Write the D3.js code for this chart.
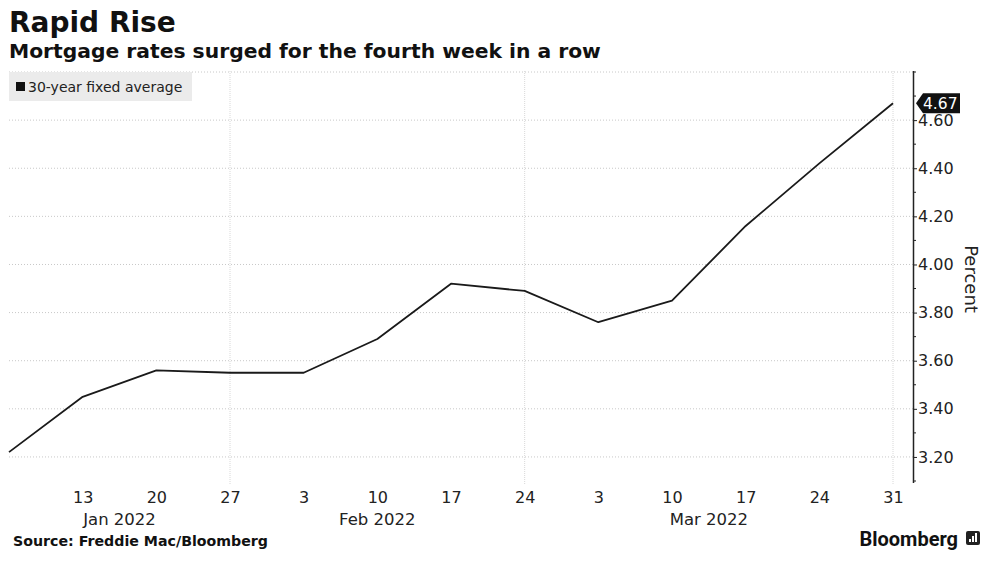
<!DOCTYPE html>
<html lang="en">
<head>
<meta charset="utf-8">
<script src="https://d3js.org/d3.v7.min.js"></script>
<style>
  body { margin: 0; background: white; }
  svg { font-family: "DejaVu Sans", Verdana, sans-serif; }
</style>
</head>
<body>
<svg id="chart" width="990" height="567"></svg>
<script>
  // weekly Freddie Mac 30-year fixed average
  const dates = ["2022-01-06","2022-01-13","2022-01-20","2022-01-27","2022-02-03","2022-02-10",
                 "2022-02-17","2022-02-24","2022-03-03","2022-03-10","2022-03-17","2022-03-24","2022-03-31"];
  const rates = [3.22, 3.45, 3.56, 3.55, 3.55, 3.69, 3.92, 3.89, 3.76, 3.85, 4.16, 4.42, 4.67];
  const yTicks = [3.20, 3.40, 3.60, 3.80, 4.00, 4.20, 4.40, 4.60, 4.80];
  const gridDates = ["2022-01-27","2022-02-24","2022-03-31"];
  const monthLabels = [["2022-01-16T12:00","Jan 2022"],["2022-02-10","Feb 2022"],["2022-03-13T12:00","Mar 2022"]];

  const parse = d3.isoParse;
  const data = dates.map((d, i) => ({ date: parse(d), value: rates[i] }));

  const svg = d3.select("#chart");
  const plotLeft = 9, plotRight = 913, plotTop = 71, plotBottom = 485;

  const x = d3.scaleTime().domain([parse(dates[0]), parse(dates[dates.length - 1])]).range([9, 893]);
  const y = d3.scaleLinear().domain([3.1, 4.8]).range([481, 72]);

  // titles
  svg.append("text").attr("x", 9).attr("y", 32).attr("font-size", 28).attr("font-weight", "bold")
     .attr("fill", "#111").text("Rapid Rise");
  svg.append("text").attr("x", 9).attr("y", 58).attr("font-size", 20.3).attr("font-weight", "bold")
     .attr("fill", "#111").text("Mortgage rates surged for the fourth week in a row");

  // gridlines
  svg.append("g").selectAll("line").data(yTicks).enter().append("line")
     .attr("x1", plotLeft).attr("x2", plotRight).attr("y1", d => y(d)).attr("y2", d => y(d))
     .attr("stroke", "#c8c8c8").attr("stroke-dasharray", "1,2");
  svg.append("g").selectAll("line").data(gridDates).enter().append("line")
     .attr("x1", d => x(parse(d))).attr("x2", d => x(parse(d)))
     .attr("y1", plotTop).attr("y2", plotBottom)
     .attr("stroke", "#d8d8d8").attr("stroke-dasharray", "1,1");

  // legend
  svg.append("rect").attr("x", 9).attr("y", 72).attr("width", 183).attr("height", 29).attr("fill", "#ebebeb");
  svg.append("rect").attr("x", 16).attr("y", 82).attr("width", 9).attr("height", 9).attr("fill", "#111");
  svg.append("text").attr("x", 28).attr("y", 92).attr("font-size", 14).attr("fill", "#222")
     .text("30-year fixed average");

  // line
  const line = d3.line().x(d => x(d.date)).y(d => y(d.value));
  svg.append("path").datum(data).attr("d", line).attr("fill", "none")
     .attr("stroke", "#1a1a1a").attr("stroke-width", 1.8).attr("stroke-linejoin", "round");

  // right axis
  const yAxis = d3.axisRight(y).tickValues(yTicks.filter(d => d < 4.8)).tickSize(4).tickFormat(d3.format(".2f"));
  const ag = svg.append("g").attr("transform", `translate(${plotRight},0)`).call(yAxis);
  ag.select(".domain").attr("d", `M0.5,${plotTop}V${plotBottom - 2}`).attr("stroke", "#222").attr("stroke-width", 1.5);
  ag.selectAll(".tick line").attr("stroke", "#222");
  ag.selectAll(".tick text").attr("x", 5).attr("font-size", 16).attr("fill", "#222")
    .attr("font-family", "DejaVu Sans, sans-serif");
  // minor ticks
  const minor = d3.range(3.1, 4.81, 0.1).filter(v => Math.round(v * 10) % 2 === 1 || Math.abs(v - 4.8) < 1e-6);
  svg.append("g").selectAll("line").data(minor).enter().append("line")
     .attr("x1", plotRight).attr("x2", plotRight + 3).attr("y1", d => y(d)).attr("y2", d => y(d))
     .attr("stroke", "#222");

  svg.append("text").attr("transform", "translate(965,279) rotate(90)").attr("text-anchor", "middle")
     .attr("font-size", 18).attr("fill", "#222").text("Percent");

  // last value callout
  const last = data[data.length - 1];
  const ly = y(last.value);
  svg.append("path")
     .attr("d", `M${plotRight + 3},${ly} L${plotRight + 10},${ly - 10} H${plotRight + 47} V${ly + 10} H${plotRight + 10} Z`)
     .attr("fill", "#111");
  svg.append("text").attr("x", plotRight + 10).attr("y", ly + 6).attr("font-size", 15.5).attr("fill", "white")
     .text(d3.format(".2f")(last.value));

  // bottom axis
  const xAxis = d3.axisBottom(x).tickValues(data.slice(1).map(d => d.date)).tickSize(0)
     .tickFormat(d3.timeFormat("%-d"));
  const xg = svg.append("g").attr("transform", `translate(0,${plotBottom})`).call(xAxis);
  xg.select(".domain").remove();
  xg.selectAll(".tick text").attr("y", 7).attr("font-size", 16).attr("fill", "#222")
    .attr("font-family", "DejaVu Sans, sans-serif");
  svg.append("g").selectAll("text").data(monthLabels).enter().append("text")
     .attr("x", d => x(parse(d[0]))).attr("y", 525).attr("text-anchor", "middle")
     .attr("font-size", 16.5).attr("fill", "#222").text(d => d[1]);

  // footer
  svg.append("text").attr("x", 13).attr("y", 546).attr("font-size", 14.2).attr("font-weight", "bold")
     .attr("fill", "#111").text("Source: Freddie Mac/Bloomberg");
  svg.append("text").attr("x", 958).attr("y", 546).attr("text-anchor", "end").attr("font-size", 20)
     .attr("font-weight", "bold").attr("fill", "#111").attr("font-family", "Roboto, sans-serif")
     .text("Bloomberg");
  svg.append("rect").attr("x", 966).attr("y", 531).attr("width", 14).attr("height", 14).attr("rx", 2).attr("fill", "#222");
  svg.append("g").selectAll("rect").data([3, 6, 9]).enter().append("rect")
     .attr("x", (d, i) => 969 + i * 3).attr("y", d => 542 - d).attr("width", 2).attr("height", d => d).attr("fill", "white");
</script>
</body>
</html>
